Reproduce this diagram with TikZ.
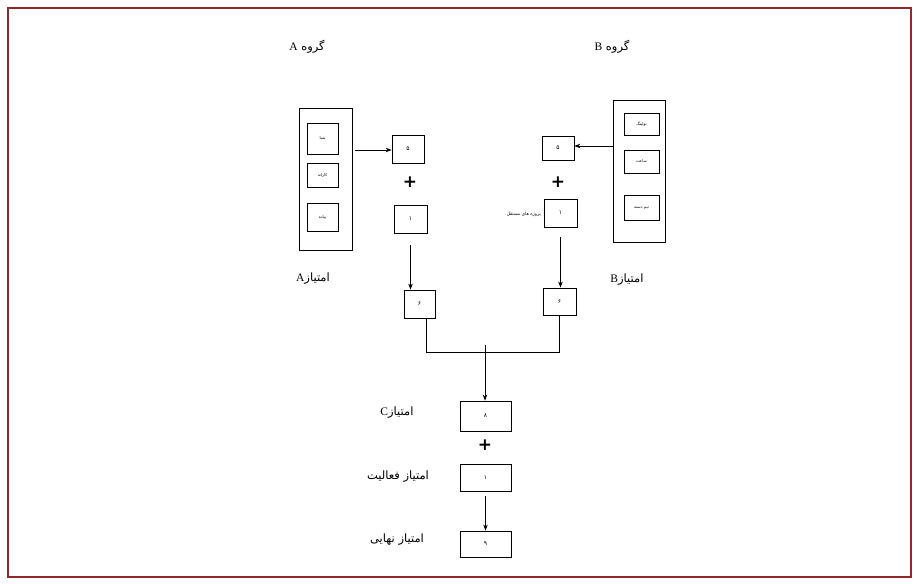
\documentclass[tikz,border=0pt]{standalone}
\usepackage{fontspec}
\setmainfont{Liberation Serif}
\newfontfamily\fa[Script=Arabic]{DejaVu Sans}
\newfontfamily\plusfont{DejaVu Sans}
\TeXXeTstate=1
\usetikzlibrary{arrows.meta}
\definecolor{frame}{RGB}{140,45,45}
\newcommand\rtltext[1]{{\fa\beginR #1\endR}}
\tikzset{
  bx/.style={draw, line width=0.8pt, inner sep=0pt, font=\fontsize{6}{7}\selectfont},
  smallbx/.style={draw, line width=0.8pt, inner sep=0pt, font=\fontsize{4}{5}\selectfont},
  bigbx/.style={draw, line width=0.9pt, inner sep=0pt},
  lbl/.style={inner sep=0pt, font=\fontsize{11.5}{13}\selectfont},
  pl/.style={inner sep=0pt, font=\plusfont\bfseries\fontsize{17}{17}\selectfont},
  arr/.style={line width=0.8pt, -{Stealth[length=6pt,width=4.5pt]}},
  ln/.style={line width=0.8pt}
}
\begin{document}
\begin{tikzpicture}[x=1pt,y=-1pt]
\useasboundingbox (0,0) rectangle (919,584);
\draw[frame, line width=2pt] (8,8) rectangle (911,577);

% titles
\node[lbl] (tA) at (307,47) {\rtltext{گروه {\rmfamily A}}};
\node[lbl] (tB) at (612,47) {\rtltext{گروه {\rmfamily B}}};

% left group
\node[bigbx, minimum width=53pt, minimum height=142pt] (bigA) at (325.5,179) {};
\node[smallbx, minimum width=31pt, minimum height=31pt] (a1) at (322.5,138.5) {\rtltext{شنا}};
\node[smallbx, minimum width=31pt, minimum height=24pt] (a2) at (322.5,175) {\rtltext{کاراته}};
\node[smallbx, minimum width=31pt, minimum height=28pt] (a3) at (322.5,217) {\rtltext{پیاده}};
\node[bx, minimum width=32pt, minimum height=28pt] (A5) at (408,149) {\rtltext{۵}};
\node[pl] (pA) at (410,182) {+};
\node[bx, minimum width=33pt, minimum height=28pt] (A1) at (410.5,219) {\rtltext{۱}};
\node[lbl] (sA) at (313,279) {\rtltext{امتیاز{\rmfamily A}}};
\node[bx, minimum width=31pt, minimum height=28pt] (A6) at (419.5,304) {\rtltext{۶}};

% right group
\node[bigbx, minimum width=52pt, minimum height=142pt] (bigB) at (639,171) {};
\node[smallbx, minimum width=35pt, minimum height=22pt] (b1) at (641.5,124) {\rtltext{بولینگ}};
\node[smallbx, minimum width=35pt, minimum height=23pt] (b2) at (641.5,161.5) {\rtltext{ساعت}};
\node[smallbx, minimum width=35pt, minimum height=25pt] (b3) at (641.5,207.5) {\rtltext{تیم دسته}};
\node[bx, minimum width=32pt, minimum height=24pt] (B5) at (558,148) {\rtltext{۵}};
\node[pl] (pB) at (558,182) {+};
\node[bx, minimum width=33pt, minimum height=28pt] (B1) at (560.5,213) {\rtltext{۱}};
\node[inner sep=0pt, font=\fontsize{4.5}{5}\selectfont, anchor=east] (pr) at (541,214) {\rtltext{پروژه های مستقل}};
\node[lbl] (sB) at (627,280) {\rtltext{امتیاز{\rmfamily B}}};
\node[bx, minimum width=33pt, minimum height=27pt] (B6) at (559.5,301.5) {\rtltext{۶}};

% bottom
\coordinate (J) at (485,352);
\node[bx, minimum width=51pt, minimum height=30pt] (C8) at (485.5,416) {\rtltext{۸}};
\node[lbl] (sC) at (397,413) {\rtltext{امتیاز{\rmfamily C}}};
\node[pl] (pC) at (485,445) {+};
\node[bx, minimum width=51pt, minimum height=27pt] (D1) at (485.5,477.5) {\rtltext{۱}};
\node[lbl] (sD) at (398,477) {\rtltext{امتیاز فعالیت}};
\node[bx, minimum width=51pt, minimum height=26pt] (F) at (485.5,544) {\rtltext{۹}};
\node[lbl] (sF) at (397,540) {\rtltext{امتیاز نهایی}};

% connectors
\draw[arr] (bigA.east |- 0,150) ++(3,0) -- (A5.west |- 0,150);
\draw[arr] (bigB.west |- 0,146) -- (B5.east |- 0,146);
\draw[arr, shorten <=12pt] (A1.south) -- (A1.south |- A6.north);
\draw[arr, shorten <=10pt] (B1.south) -- (B1.south |- B6.north);
\draw[ln] (A6.south) ++(7,0) |- (J);
\draw[ln] (B6.south) |- (J);
\draw[ln] (J) -- ++(0,-7);
\draw[arr] (J) -- (J |- C8.north);
\draw[arr, shorten <=5pt] (D1.south) -- (F.north);
\end{tikzpicture}
\end{document}
